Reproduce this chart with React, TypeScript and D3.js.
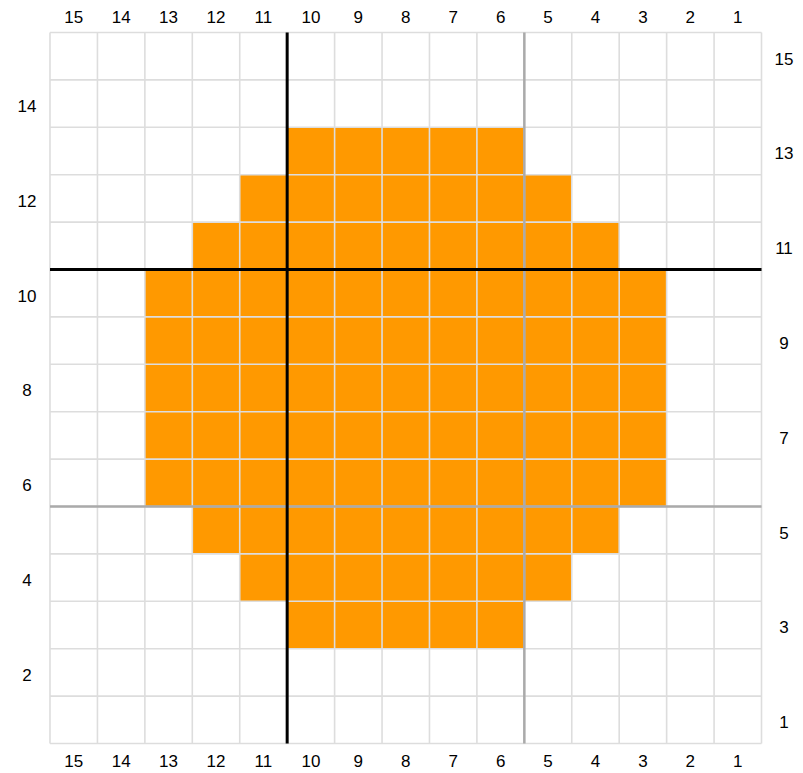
import React, { useEffect, useRef } from "react";
import * as d3 from "d3";

const columnLabels = [15, 14, 13, 12, 11, 10, 9, 8, 7, 6, 5, 4, 3, 2, 1];
const rowLabels = [15, 14, 13, 12, 11, 10, 9, 8, 7, 6, 5, 4, 3, 2, 1];
// filled range per row (column labels, inclusive); null = empty row
const fillFrom: (number | null)[] = [null, null, 10, 11, 12, 13, 13, 13, 13, 13, 12, 11, 10, null, null];
const fillTo: (number | null)[] = [null, null, 6, 5, 4, 3, 3, 3, 3, 3, 4, 5, 6, null, null];
// reference lines: boundary after given label
const blackColumnAfter = 11;
const blackRowAfter = 11;
const grayColumnAfter = 6;
const grayRowAfter = 6;

const W = 803;
const H = 773;
const left = 50;
const right = 761.5;
const top = 32.5;
const bottom = 743.5;

export default function App() {
  const ref = useRef<SVGSVGElement>(null);
  useEffect(() => {
    const svg = d3.select(ref.current);
    svg.selectAll("*").remove();
    const x = d3.scaleBand<number>().domain(columnLabels).range([left, right]).padding(0);
    const y = d3.scaleBand<number>().domain(rowLabels).range([top, bottom]).padding(0);
    const bw = x.bandwidth();
    const bh = y.bandwidth();

    const cells: { r: number; c: number }[] = [];
    rowLabels.forEach((r, i) => {
      const f = fillFrom[i];
      const t = fillTo[i];
      if (f == null || t == null) return;
      columnLabels.forEach((c) => {
        if (c <= f && c >= t) cells.push({ r, c });
      });
    });

    svg
      .append("rect")
      .attr("x", left)
      .attr("y", top)
      .attr("width", right - left)
      .attr("height", bottom - top)
      .attr("fill", "#fff");

    svg
      .append("g")
      .selectAll("rect")
      .data(cells)
      .join("rect")
      .attr("x", (d) => x(d.c)!)
      .attr("y", (d) => y(d.r)!)
      .attr("width", bw)
      .attr("height", bh)
      .attr("fill", "#ff9900");

    const xs = columnLabels.map((c) => x(c)!).concat([right]);
    const ys = rowLabels.map((r) => y(r)!).concat([bottom]);
    const grid = svg.append("g").attr("stroke", "#dddddd").attr("stroke-width", 1.6);
    xs.forEach((xv) =>
      grid.append("line").attr("x1", xv).attr("x2", xv).attr("y1", top).attr("y2", bottom)
    );
    ys.forEach((yv) =>
      grid.append("line").attr("x1", left).attr("x2", right).attr("y1", yv).attr("y2", yv)
    );

    const colEdge = (c: number) => x(c)! + bw;
    const rowEdge = (r: number) => y(r)! + bh;

    const gx = colEdge(grayColumnAfter);
    const gy = rowEdge(grayRowAfter);
    svg.append("line").attr("x1", gx).attr("x2", gx).attr("y1", top).attr("y2", bottom)
      .attr("stroke", "#aaaaaa").attr("stroke-width", 2.5);
    svg.append("line").attr("x1", left).attr("x2", right).attr("y1", gy).attr("y2", gy)
      .attr("stroke", "#aaaaaa").attr("stroke-width", 2.5);

    const bx = colEdge(blackColumnAfter);
    const by = rowEdge(blackRowAfter);
    svg.append("line").attr("x1", bx).attr("x2", bx).attr("y1", top).attr("y2", bottom)
      .attr("stroke", "#000").attr("stroke-width", 3);
    svg.append("line").attr("x1", left).attr("x2", right).attr("y1", by).attr("y2", by)
      .attr("stroke", "#000").attr("stroke-width", 3);

    const font = "'Liberation Sans', Arial, sans-serif";
    const labels = svg.append("g").attr("font-family", font).attr("font-size", 17).attr("fill", "#000");
    columnLabels.forEach((c) => {
      const cx = x(c)! + bw / 2;
      labels.append("text").attr("x", cx).attr("y", 17).attr("dy", "0.35em")
        .attr("text-anchor", "middle").text(c);
      labels.append("text").attr("x", cx).attr("y", 761.5).attr("dy", "0.35em")
        .attr("text-anchor", "middle").text(c);
    });
    rowLabels.forEach((r) => {
      const cy = y(r)! + bh / 2 + 2.5;
      const even = r % 2 === 0;
      labels.append("text").attr("x", even ? 27 : 784).attr("y", cy).attr("dy", "0.35em")
        .attr("text-anchor", "middle").text(r);
    });
  }, []);
  return (
    <svg
      ref={ref}
      width={W}
      height={H}
      style={{ position: "absolute", left: 0, top: 0, background: "#fff" }}
    />
  );
}
